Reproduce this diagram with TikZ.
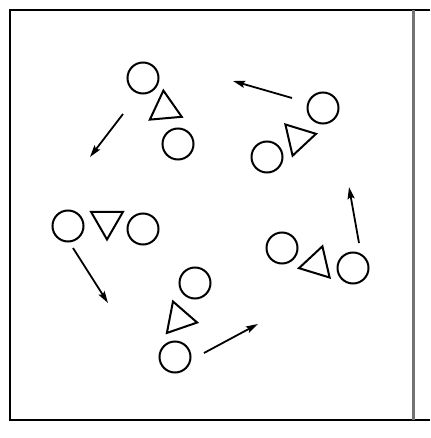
\documentclass[tikz,border=0pt]{standalone}
\usetikzlibrary{shapes.geometric,arrows.meta}
\begin{document}
\begin{tikzpicture}[x=1pt,y=-1pt,
    ball/.style={circle,draw,line width=2pt,minimum size=31pt,inner sep=0pt},
    tri/.style={regular polygon,regular polygon sides=3,draw,line width=2pt,
                minimum size=37pt,inner sep=0pt,shape border rotate=#1},
    move/.style={line width=1.8pt,-{Stealth[length=12pt,width=7pt,inset=2pt]}}]
\useasboundingbox (0,0) rectangle (430,438);
% frame
\draw[line width=2.5pt] (430,10) -- (10,10) -- (10,420) -- (430,420);
\draw[black!55,line width=3pt] (413,10) -- (413,420);
% top left group
\node[ball] (a1) at (143,78) {};
\node[tri=5] (at) at (165,109) {};
\node[ball] (a2) at (178,144) {};
\coordinate (as) at (123,114);
\coordinate (ae) at (90,157);
\draw[move] (as) -- (ae);
% top right group
\node[ball] (b1) at (323,108) {};
\node[tri=-77] (bt) at (298,138) {};
\node[ball] (b2) at (267,157) {};
\coordinate (bs) at (292,98);
\coordinate (be) at (233,81);
\draw[move] (bs) -- (be);
% left group
\node[ball] (c1) at (68,226) {};
\node[tri=180] (ct) at (107,221) {};
\node[ball] (c2) at (143,229) {};
\coordinate (cs) at (73,248);
\coordinate (ce) at (108,303);
\draw[move] (cs) -- (ce);
% bottom group
\node[ball] (d1) at (195,283) {};
\node[tri=-101] (dt) at (179,319) {};
\node[ball] (d2) at (175,357) {};
\coordinate (ds) at (204,353);
\coordinate (de) at (258,324);
\draw[move] (ds) -- (de);
% right group
\node[ball] (e1) at (282,248) {};
\node[tri=103] (et) at (317,264) {};
\node[ball] (e2) at (353,268) {};
\coordinate (es) at (359,243);
\coordinate (ee) at (349,187);
\draw[move] (es) -- (ee);
\end{tikzpicture}
\end{document}
